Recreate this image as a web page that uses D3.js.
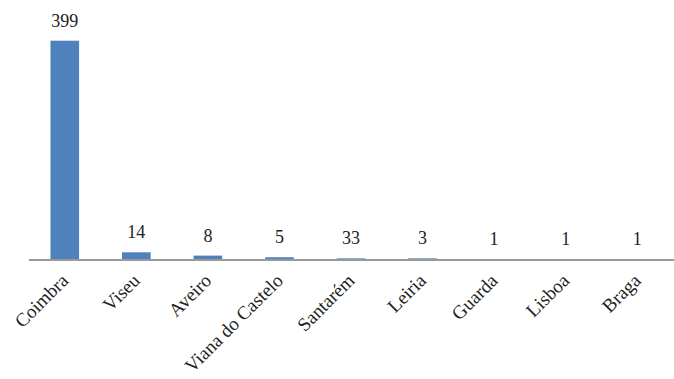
<!DOCTYPE html>
<html>
<head>
<meta charset="utf-8">
<script src="https://cdn.jsdelivr.net/npm/d3@7"></script>
<style>
  body { margin: 0; background: #fff; }
</style>
</head>
<body>
<div id="chart"></div>
<script>
// districts and counts
const districts = ["Coimbra", "Viseu", "Aveiro", "Viana do Castelo", "Santarém", "Leiria", "Guarda", "Lisboa", "Braga"];
const counts = [399, 14, 8, 5, 3, 3, 1, 1, 1];
// printed labels (the source prints 33 over the Santarém bar)
const countLabels = ["399", "14", "8", "5", "33", "3", "1", "1", "1"];

const width = 674, height = 379;
const margin = { top: 40, right: 1, bottom: 119, left: 29 };
const serif = "'Liberation Serif', 'Times New Roman', serif";

const svg = d3.select("#chart").append("svg")
  .attr("width", width)
  .attr("height", height);

const x = d3.scaleBand()
  .domain(districts)
  .range([margin.left, width - margin.right])
  .paddingInner(0.6)
  .paddingOuter(0.3);

const y = d3.scaleLinear()
  .domain([0, 399])
  .range([height - margin.bottom, margin.top + 0.7]);

const rows = districts.map((d, i) => ({ name: d, value: counts[i], label: countLabels[i] }));

svg.selectAll(".bar")
  .data(rows)
  .enter().append("rect")
  .attr("class", "bar")
  .attr("x", d => x(d.name))
  .attr("y", d => y(d.value))
  .attr("width", x.bandwidth())
  .attr("height", d => y(0) - y(d.value))
  .attr("fill", "#4F81BD");

// value labels
svg.selectAll(".val")
  .data(rows)
  .enter().append("text")
  .attr("class", "val")
  .attr("x", d => x(d.name) + x.bandwidth() / 2)
  .attr("y", d => y(d.value) - 14)
  .attr("text-anchor", "middle")
  .style("font-family", serif)
  .style("font-size", "18px")
  .attr("fill", "#222")
  .text(d => d.label);

// baseline axis
const xAxis = svg.append("g")
  .attr("transform", `translate(0,${y(0)})`)
  .call(d3.axisBottom(x).tickSize(0).tickPadding(0));

xAxis.select(".domain")
  .attr("stroke", "#999")
  .attr("stroke-width", 2)
  .attr("d", `M${margin.left},0H${width}`);

xAxis.selectAll(".tick text")
  .attr("text-anchor", "end")
  .attr("transform", "translate(0,17) rotate(-45)")
  .attr("dy", "0.35em")
  .attr("y", 0)
  .style("font-family", serif)
  .style("font-size", "19px")
  .attr("fill", "#222");
</script>
</body>
</html>
